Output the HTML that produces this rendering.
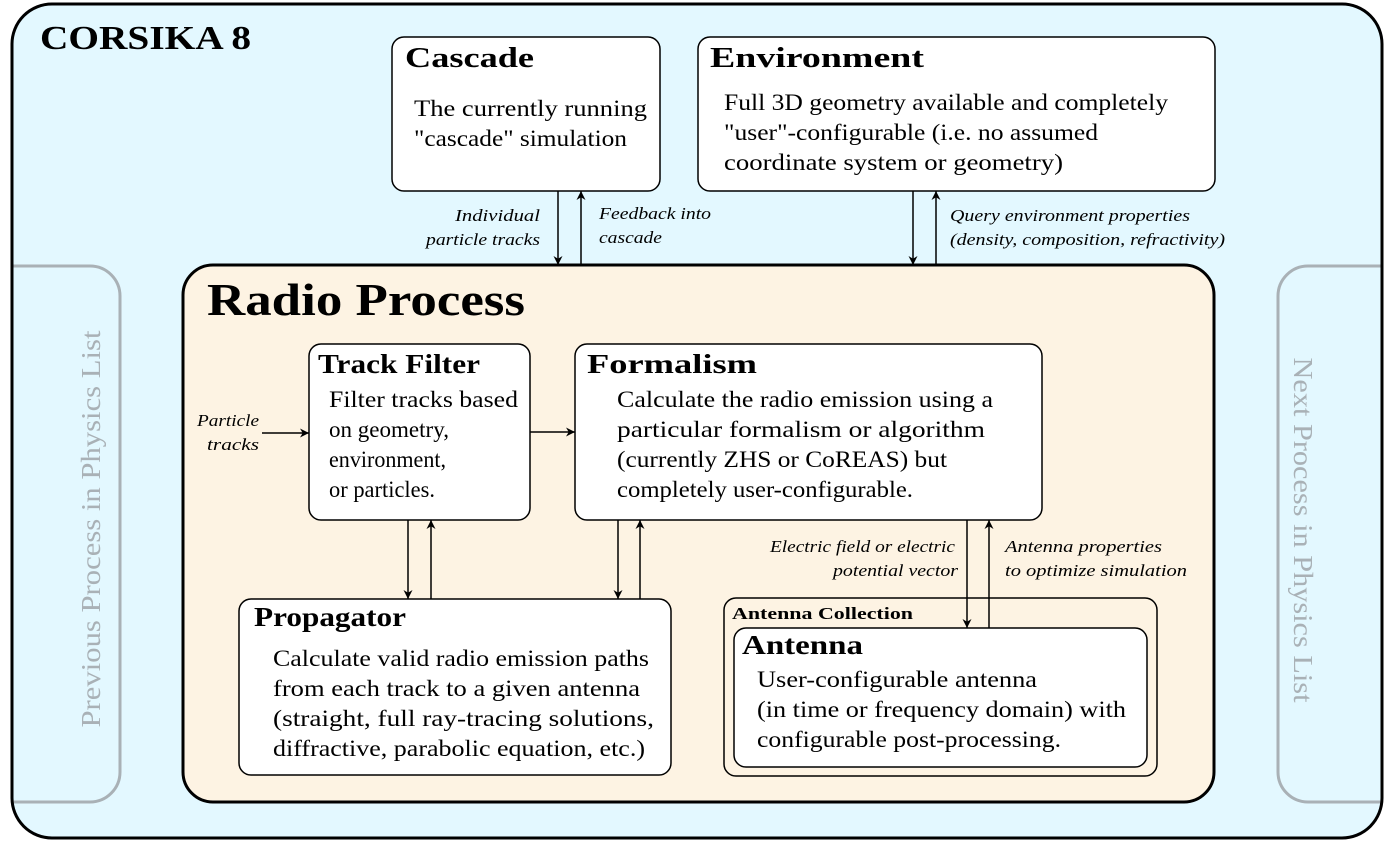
<!DOCTYPE html>
<html><head><meta charset="utf-8"><style>body{margin:0;background:#fff}svg{display:block}</style></head><body>
<svg width="1386" height="843" viewBox="0 0 1386 843" xmlns="http://www.w3.org/2000/svg" font-family="Liberation Serif, serif">
<defs>
<marker id="a" viewBox="0 0 10 10" refX="10" refY="5" markerWidth="9" markerHeight="9" orient="auto-start-reverse" markerUnits="userSpaceOnUse"><path d="M0,0 L10,5 L0,10 L3,5 z" fill="#000"/></marker>
<clipPath id="oc"><rect x="12" y="4" width="1370" height="834" rx="40"/></clipPath>
</defs>
<rect x="12" y="4" width="1370" height="834" rx="40" fill="#e3f8ff"/>
<g clip-path="url(#oc)" fill="none" stroke="#a9b1b6" stroke-width="3">
<rect x="-40" y="266" width="160" height="536" rx="30"/>
<rect x="1278" y="266" width="160" height="536" rx="30"/>
</g>
<rect x="12" y="4" width="1370" height="834" rx="40" fill="none" stroke="#000" stroke-width="3"/>
<text x="40" y="49" font-size="34" font-weight="bold" textLength="211" lengthAdjust="spacingAndGlyphs">CORSIKA 8</text>
<text transform="translate(100,529) rotate(-90)" font-size="27" fill="#a9b1b6" text-anchor="middle" textLength="397" lengthAdjust="spacingAndGlyphs">Previous Process in Physics List</text>
<text transform="translate(1294,530) rotate(90)" font-size="27" fill="#a9b1b6" text-anchor="middle" textLength="345" lengthAdjust="spacingAndGlyphs">Next Process in Physics List</text>
<g stroke="#000" stroke-width="1.5" fill="#fff">
<rect x="392" y="37" width="268" height="154" rx="12"/>
<rect x="698" y="37" width="517" height="154" rx="12"/>
</g>
<text x="405" y="67" font-size="29" font-weight="bold" textLength="129" lengthAdjust="spacingAndGlyphs">Cascade</text>
<g font-size="23">
<text x="414" y="116" textLength="233" lengthAdjust="spacingAndGlyphs">The currently running</text>
<text x="414" y="146" textLength="213" lengthAdjust="spacingAndGlyphs">"cascade" simulation</text>
</g>
<text x="710" y="67" font-size="29" font-weight="bold" textLength="214" lengthAdjust="spacingAndGlyphs">Environment</text>
<g font-size="23">
<text x="724" y="110" textLength="444" lengthAdjust="spacingAndGlyphs">Full 3D geometry available and completely</text>
<text x="724" y="140" textLength="374" lengthAdjust="spacingAndGlyphs">"user"-configurable (i.e. no assumed</text>
<text x="724" y="170" textLength="339" lengthAdjust="spacingAndGlyphs">coordinate system or geometry)</text>
</g>
<g stroke="#000" stroke-width="1.5" marker-end="url(#a)">
<line x1="558" y1="191" x2="558" y2="265"/>
<line x1="581" y1="265" x2="581" y2="191"/>
<line x1="913" y1="191" x2="913" y2="265"/>
<line x1="936" y1="265" x2="936" y2="191"/>
</g>
<g font-size="17" font-style="italic">
<text x="455" y="221" textLength="85" lengthAdjust="spacingAndGlyphs">Individual</text><text x="426" y="245" textLength="114" lengthAdjust="spacingAndGlyphs">particle tracks</text>
<text x="599" y="219" textLength="112" lengthAdjust="spacingAndGlyphs">Feedback into</text><text x="599" y="243" textLength="63" lengthAdjust="spacingAndGlyphs">cascade</text>
<text x="950" y="221" textLength="240" lengthAdjust="spacingAndGlyphs">Query environment properties</text><text x="950" y="245" textLength="275" lengthAdjust="spacingAndGlyphs">(density, composition, refractivity)</text>
</g>
<rect x="183" y="265" width="1031" height="537" rx="30" fill="#fdf3e3" stroke="#000" stroke-width="3"/>
<text x="207" y="315" font-size="46" font-weight="bold" textLength="318" lengthAdjust="spacingAndGlyphs">Radio Process</text>
<g stroke="#000" stroke-width="1.5" fill="#fff">
<rect x="309" y="344" width="221" height="176" rx="12"/>
<rect x="575" y="344" width="467" height="176" rx="12"/>
<rect x="239" y="599" width="432" height="176" rx="12"/>
<rect x="724" y="598" width="433" height="178" rx="12" fill="none"/>
<rect x="734" y="628" width="413" height="139" rx="12"/>
</g>
<text x="318" y="373" font-size="27" font-weight="bold" textLength="162" lengthAdjust="spacingAndGlyphs">Track Filter</text>
<g font-size="23">
<text x="329" y="407" textLength="189" lengthAdjust="spacingAndGlyphs">Filter tracks based</text>
<text x="329" y="437" textLength="120" lengthAdjust="spacingAndGlyphs">on geometry,</text>
<text x="329" y="467" textLength="117" lengthAdjust="spacingAndGlyphs">environment,</text>
<text x="329" y="497" textLength="106" lengthAdjust="spacingAndGlyphs">or particles.</text>
</g>
<text x="587" y="373" font-size="27" font-weight="bold" textLength="170" lengthAdjust="spacingAndGlyphs">Formalism</text>
<g font-size="23">
<text x="617" y="407" textLength="376" lengthAdjust="spacingAndGlyphs">Calculate the radio emission using a</text>
<text x="617" y="437" textLength="368" lengthAdjust="spacingAndGlyphs">particular formalism or algorithm</text>
<text x="617" y="467" textLength="330" lengthAdjust="spacingAndGlyphs">(currently ZHS or CoREAS) but</text>
<text x="617" y="497" textLength="296" lengthAdjust="spacingAndGlyphs">completely user-configurable.</text>
</g>
<text x="254" y="626" font-size="27" font-weight="bold" textLength="152" lengthAdjust="spacingAndGlyphs">Propagator</text>
<g font-size="23">
<text x="273" y="666" textLength="376" lengthAdjust="spacingAndGlyphs">Calculate valid radio emission paths</text>
<text x="273" y="696" textLength="367" lengthAdjust="spacingAndGlyphs">from each track to a given antenna</text>
<text x="273" y="726" textLength="381" lengthAdjust="spacingAndGlyphs">(straight, full ray-tracing solutions,</text>
<text x="273" y="756" textLength="372" lengthAdjust="spacingAndGlyphs">diffractive, parabolic equation, etc.)</text>
</g>
<text x="732" y="619" font-size="17" font-weight="bold" textLength="181" lengthAdjust="spacingAndGlyphs">Antenna Collection</text>
<text x="742" y="654" font-size="27" font-weight="bold" textLength="121" lengthAdjust="spacingAndGlyphs">Antenna</text>
<g font-size="23">
<text x="757" y="687" textLength="280" lengthAdjust="spacingAndGlyphs">User-configurable antenna</text>
<text x="757" y="717" textLength="369" lengthAdjust="spacingAndGlyphs">(in time or frequency domain) with</text>
<text x="757" y="747" textLength="304" lengthAdjust="spacingAndGlyphs">configurable post-processing.</text>
</g>
<g stroke="#000" stroke-width="1.5" marker-end="url(#a)">
<line x1="262" y1="433" x2="309" y2="433"/>
<line x1="530" y1="432" x2="575" y2="432"/>
<line x1="408" y1="520" x2="408" y2="599"/>
<line x1="431" y1="599" x2="431" y2="520"/>
<line x1="618" y1="520" x2="618" y2="599"/>
<line x1="640" y1="599" x2="640" y2="520"/>
<line x1="967" y1="520" x2="967" y2="628"/>
<line x1="989" y1="628" x2="989" y2="520"/>
</g>
<g font-size="17" font-style="italic">
<text x="197" y="426" textLength="62" lengthAdjust="spacingAndGlyphs">Particle</text><text x="207" y="450" textLength="52" lengthAdjust="spacingAndGlyphs">tracks</text>
<text x="770" y="552" textLength="185" lengthAdjust="spacingAndGlyphs">Electric field or electric</text><text x="833" y="576" textLength="125" lengthAdjust="spacingAndGlyphs">potential vector</text>
<text x="1005" y="552" textLength="157" lengthAdjust="spacingAndGlyphs">Antenna properties</text><text x="1005" y="576" textLength="182" lengthAdjust="spacingAndGlyphs">to optimize simulation</text>
</g>
</svg>
</body></html>
